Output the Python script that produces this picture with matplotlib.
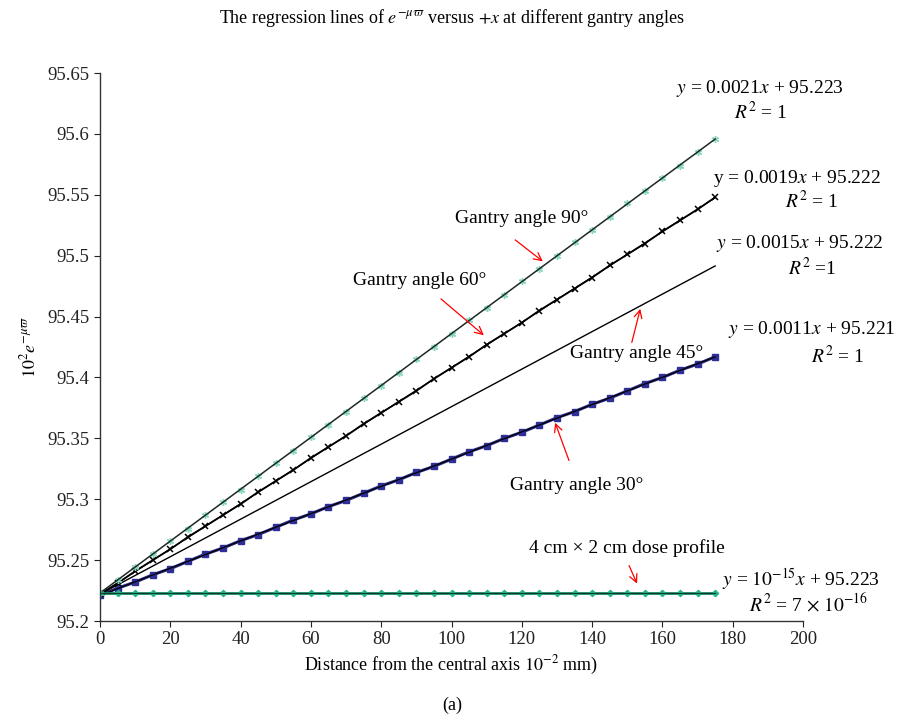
import numpy as np
import matplotlib
matplotlib.use("Agg")
import matplotlib.pyplot as plt
from matplotlib.ticker import FuncFormatter

plt.rcParams['font.family'] = ['Liberation Serif', 'DejaVu Serif']
plt.rcParams['mathtext.fontset'] = 'stix'

# distance from the central axis (10^-2 mm)
x = list(range(0, 180, 5))

# 10^2 e^(-mu w) at each gantry angle
angle_90 = [95.223, 95.234, 95.244, 95.255, 95.266, 95.276, 95.287, 95.298, 95.308,
            95.319, 95.330, 95.340, 95.351, 95.361, 95.372, 95.383, 95.393, 95.404,
            95.415, 95.425, 95.436, 95.447, 95.457, 95.468, 95.479, 95.489, 95.500,
            95.511, 95.521, 95.532, 95.543, 95.553, 95.564, 95.574, 95.585, 95.596]
angle_60 = [95.222, 95.231, 95.241, 95.250, 95.259, 95.269, 95.278, 95.287, 95.296,
            95.306, 95.315, 95.324, 95.334, 95.343, 95.352, 95.362, 95.371, 95.380,
            95.389, 95.399, 95.408, 95.417, 95.427, 95.436, 95.445, 95.455, 95.464,
            95.473, 95.482, 95.492, 95.501, 95.510, 95.520, 95.529, 95.538, 95.548]
angle_45 = [95.222, 95.230, 95.237, 95.245, 95.253, 95.261, 95.268, 95.276, 95.284,
            95.291, 95.299, 95.307, 95.314, 95.322, 95.330, 95.338, 95.345, 95.353,
            95.361, 95.368, 95.376, 95.384, 95.391, 95.399, 95.407, 95.415, 95.422,
            95.430, 95.438, 95.445, 95.453, 95.461, 95.468, 95.476, 95.484, 95.492]
angle_30 = [95.221, 95.227, 95.232, 95.238, 95.243, 95.249, 95.255, 95.260, 95.266,
            95.271, 95.277, 95.283, 95.288, 95.294, 95.299, 95.305, 95.311, 95.316,
            95.322, 95.327, 95.333, 95.339, 95.344, 95.350, 95.355, 95.361, 95.367,
            95.372, 95.378, 95.383, 95.389, 95.395, 95.400, 95.406, 95.411, 95.417]
dose_profile = [95.223] * 36

xticks = list(range(0, 220, 20))
yticks = [95.2, 95.25, 95.3, 95.35, 95.4, 95.45, 95.5, 95.55, 95.6, 95.65]


def trend(ax, xs, ys, **kw):
    # least-squares line over the measured range
    k, b = np.polyfit(xs, ys, 1)
    xx = np.array([xs[0], xs[-1]])
    ax.plot(xx, k * xx + b, **kw)


fig = plt.figure(figsize=(9.04, 7.18), dpi=100)
ax = fig.add_axes([0.1106, 0.135, 0.7777, 0.7633])

# 30 deg
ax.plot(x, angle_30, color='#2a2a86', lw=2.2, marker='s', ms=4.5,
        mfc='#2e2e96', mec='#2e2e96')
trend(ax, x, angle_30, color='black', lw=0.9)
# 45 deg (trendline only)
trend(ax, x, angle_45, color='black', lw=1.0)
# 60 deg
ax.plot(x, angle_60, color='black', lw=1.3, marker='x', ms=5, mew=1.1)
trend(ax, x, angle_60, color='black', lw=0.9)
# 90 deg
ax.plot(x, angle_90, ls='none', marker=(6, 2, 0), ms=5, mew=1.0, color='#86d6bf')
trend(ax, x, angle_90, color='#1c2a22', lw=1.1)
# 4 cm x 2 cm dose profile
ax.plot(x, dose_profile, color='#1b8a68', lw=2.0, marker='D', ms=3.2,
        mfc='#22b48a', mec='#22b48a')
trend(ax, x, dose_profile, color='#0f3b2c', lw=0.8)

ax.set_xlim(0, 200)
ax.set_ylim(95.2, 95.65)
ax.set_xticks(xticks)
ax.set_yticks(yticks)
ax.yaxis.set_major_formatter(FuncFormatter(lambda v, p: '%g' % round(v, 2)))
for s in ['top', 'right']:
    ax.spines[s].set_visible(False)
for s in ['left', 'bottom']:
    ax.spines[s].set_color('#333333')
    ax.spines[s].set_linewidth(1.0)
ax.tick_params(direction='out', length=4, labelsize=13.5, colors='#222222')

ax.set_xlabel('Distance from the central axis $10^{-2}$ mm)', fontsize=13, labelpad=4)
ax.set_ylabel(r'$10^{2}e^{-\mu\varpi}$', fontsize=13, labelpad=6)
fig.text(0.5, 0.975, r'The regression lines of $e^{-\mu\varpi}$ versus $+x$ at different gantry angles',
         ha='center', va='center', fontsize=13)
fig.text(0.5, 0.018, '(a)', ha='center', va='center', fontsize=13)

# fit equations
eq = dict(ha='center', va='center', fontsize=14, clip_on=False)
ax.text(187.8, 95.6376, r'$y$ = 0.0021$x$ + 95.223', **eq)
ax.text(188.0, 95.618, r'$R^2$ = 1', **eq)
ax.text(198.3, 95.5637, r'y = 0.0019$x$ + 95.222', **eq)
ax.text(202.5, 95.545, r'$R^2$ = 1', **eq)
ax.text(199.1, 95.5103, r'$y$ = 0.0015$x$ + 95.222', **eq)
ax.text(202.5, 95.490, r'$R^2$ =1', **eq)
ax.text(202.6, 95.439, r'$y$ = 0.0011$x$ + 95.221', **eq)
ax.text(210.0, 95.4176, r'$R^2$ = 1', **eq)
ax.text(199.5, 95.2337, r'$y$ = $10^{-15}x$ + 95.223', **eq)
ax.text(201.5, 95.214, r'$R^2$ = 7 $\times$ $10^{-16}$', **eq)

# series labels with red pointers
lab = dict(ha='center', va='center', fontsize=14)
arrow = dict(arrowstyle='->', color='red', lw=0.9, mutation_scale=14)
ax.text(120.1, 95.5309, 'Gantry angle 90°', **lab)
ax.annotate('', xy=(126.6, 95.4939), xytext=(117.5, 95.5144), arrowprops=arrow)
ax.text(91.0, 95.480, 'Gantry angle 60°', **lab)
ax.annotate('', xy=(109.8, 95.4332), xytext=(96.4, 95.466), arrowprops=arrow)
ax.text(152.8, 95.420, 'Gantry angle 45°', **lab)
ax.annotate('', xy=(153.9, 95.4586), xytext=(151.1, 95.4266), arrowprops=arrow)
ax.text(135.7, 95.3117, 'Gantry angle 30°', **lab)
ax.annotate('', xy=(129.2, 95.365), xytext=(133.7, 95.3297), arrowprops=arrow)
ax.text(149.9, 95.260, '4 cm × 2 cm dose profile', **lab)
ax.annotate('', xy=(153.1, 95.2287), xytext=(150.2, 95.2476), arrowprops=arrow)

fig.savefig('out.png', dpi=100)
